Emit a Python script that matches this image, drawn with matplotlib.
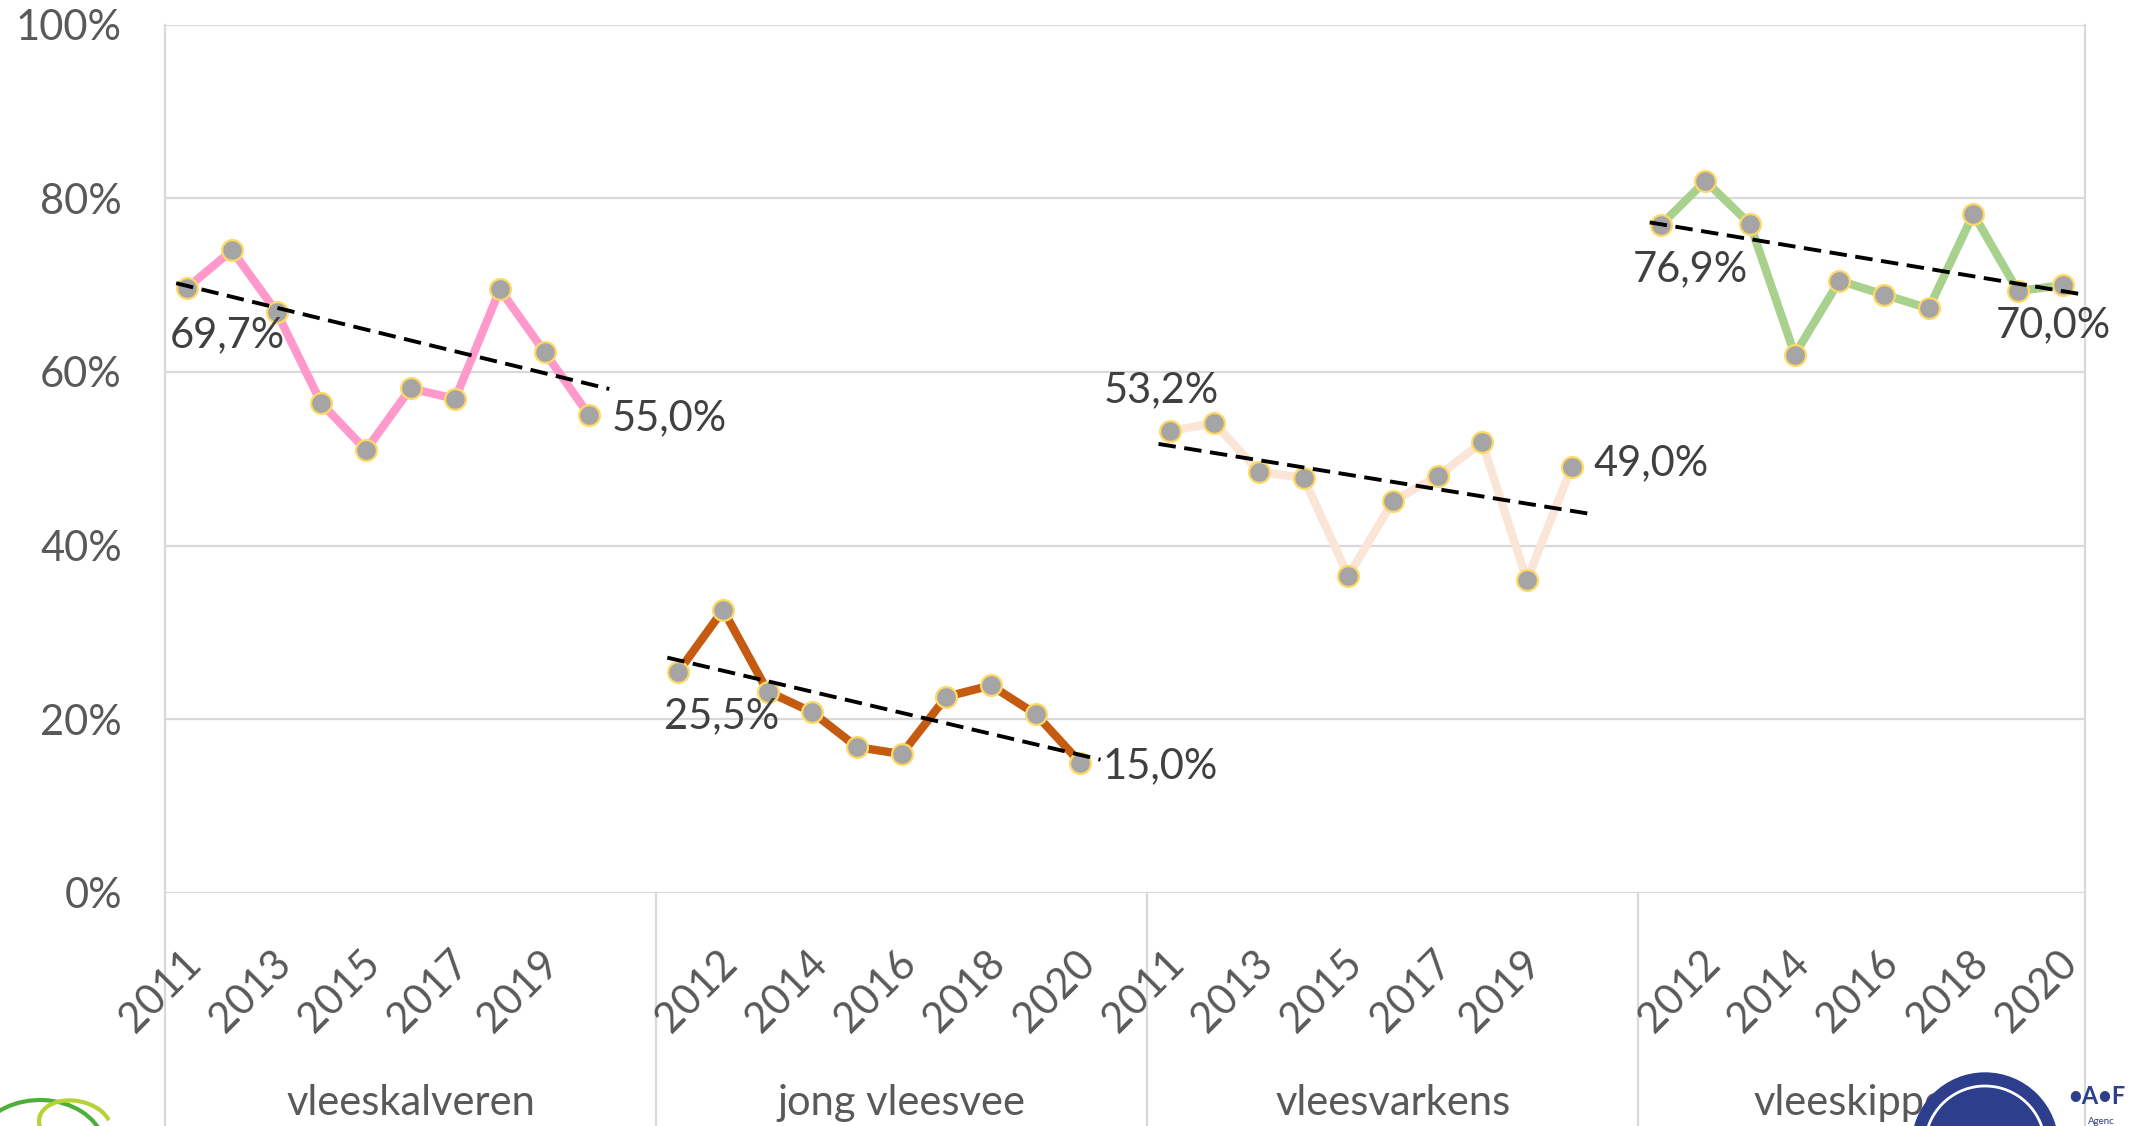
import matplotlib
matplotlib.use('Agg')
import matplotlib.pyplot as plt
from matplotlib.patches import Ellipse, Arc
from matplotlib.lines import Line2D
from matplotlib import font_manager
import numpy as np

# ---------------- data ----------------
years = [2011, 2012, 2013, 2014, 2015, 2016, 2017, 2018, 2019, 2020]
groups = ['vleeskalveren', 'jong vleesvee', 'vleesvarkens', 'vleeskippen']
vleeskalveren = [69.7, 74.0, 66.9, 56.4, 51.0, 58.1, 56.9, 69.5, 62.3, 55.0]
jong_vleesvee = [25.5, 32.6, 23.2, 20.8, 16.8, 16.0, 22.6, 23.9, 20.6, 15.0]
vleesvarkens = [53.2, 54.1, 48.5, 47.8, 36.5, 45.1, 48.0, 51.9, 36.0, 49.0]
vleeskippen = [76.9, 82.0, 77.0, 62.0, 70.5, 68.9, 67.3, 78.2, 69.3, 70.0]
series = [vleeskalveren, jong_vleesvee, vleesvarkens, vleeskippen]
# trend line values at first (2011) and last (2020) year
trend_first = [69.9, 26.8, 51.5, 77.0]
trend_last = [58.6, 15.9, 44.0, 69.3]
yticks = [0, 20, 40, 60, 80, 100]

# ---------------- style ----------------
line_colors = ['#ff99cc', '#c55a11', '#fbe5d6', '#a9d18e']
grid_c = '#d9d9d9'
axis_txt = '#595959'
label_txt = '#404040'

names = {f.name for f in font_manager.fontManager.ttflist}
if 'Liberation Sans Narrow' in names:
    FAM = ['Liberation Sans Narrow', 'DejaVu Sans']
    FS = 36
else:
    FAM = ['Lato', 'DejaVu Sans']
    FS = 30
plt.rcParams['font.family'] = FAM

W, H = 2136, 1126
fig = plt.figure(figsize=(W / 100, H / 100), dpi=100)
left_px, right_px, top_px, bot_px = 165, 2085, 24.5, 893
ax = fig.add_axes([left_px / W, 1 - bot_px / H, (right_px - left_px) / W, (bot_px - top_px) / H])

# categories: each group has 10 years + one blank (except the last group)
cats = []
for g in range(len(groups)):
    cats += [str(y) for y in years]
    if g < len(groups) - 1:
        cats.append('')
n = len(cats)
ax.set_xlim(-0.5, n - 0.5)
ax.set_ylim(0, 100)

ax.set_yticks(yticks)
ax.set_yticklabels([f'{v}%' for v in yticks])
ax.yaxis.grid(True, color=grid_c, lw=1.6)
ax.set_axisbelow(True)
ax.tick_params(axis='y', length=0, pad=31, labelsize=FS, labelcolor=axis_txt)
ax.set_xticks([])
for s in ['top', 'bottom']:
    ax.spines[s].set_visible(False)
for s in ['left', 'right']:
    ax.spines[s].set_color(grid_c)
    ax.spines[s].set_linewidth(1.6)

xtr = ax.get_xaxis_transform()
# category group separators extending below the axis
sep = [-0.5]
for g in range(len(groups)):
    sep.append(sep[-1] + (11 if g < len(groups) - 1 else 10))
for s in sep:
    ax.add_line(Line2D([s, s], [0, -0.4], transform=xtr, color=grid_c, lw=1.6, clip_on=False))

# year tick labels (every other category)
for k in range(0, n, 2):
    if cats[k]:
        ax.annotate(cats[k], xy=(k, 0), xycoords=xtr, xytext=(8, -64), textcoords='offset pixels',
                    rotation=45, rotation_mode='anchor', ha='right', va='center',
                    fontsize=FS, color=axis_txt, annotation_clip=False)

# group labels
for g, name in enumerate(groups):
    cx = (sep[g] + sep[g + 1]) / 2
    ax.text(cx, -(1115 - bot_px) / (bot_px - top_px), name, transform=xtr, ha='center',
            va='baseline', fontsize=FS, color=axis_txt, clip_on=False, zorder=10)

# data lines, trends and labels
first_off = [(40, -48, 'center'), (43, -45, 'center'), (-8, 41, 'center'), (30, -44, 'center')]
last_off = [(22, -3, 'left'), (22, -3, 'left'), (22, 4, 'left'), (-9, -40, 'center')]
for g, vals in enumerate(series):
    x0 = g * 11
    xs = x0 + np.arange(len(years))
    ax.plot(xs, vals, color=line_colors[g], lw=6, marker='o', ms=15,
            mfc='#a5a5a5', mec='#ffd966', mew=1.6, solid_joinstyle='round', zorder=3)
    slope = (trend_last[g] - trend_first[g]) / (len(years) - 1)
    tx = np.array([-0.25, 9.45])
    ty = trend_first[g] + slope * tx
    ax.plot(x0 + tx, ty, color='black', lw=2.8, ls=(0, (4.5, 2.2)), zorder=4)
    for idx, off in ((0, first_off[g]), (len(years) - 1, last_off[g])):
        txt = f'{vals[idx]:.1f}'.replace('.', ',') + '%'
        ax.annotate(txt, xy=(xs[idx], vals[idx]), xytext=(off[0], off[1]), textcoords='offset pixels',
                    ha=off[2], va='center', fontsize=FS, color=label_txt, zorder=6,
                    annotation_clip=False)

# ---------------- logos (approximate) ----------------
def fx(px):
    return px / W

def fy(py):
    return 1 - py / H

# green leaf (bottom-left)
fig.add_artist(Arc((fx(40), fy(1150)), fx(130), 100 / H, theta1=20, theta2=150,
                   color='#4caf3a', lw=3, transform=fig.transFigure))
fig.add_artist(Arc((fx(75), fy(1125)), fx(70), 50 / H, angle=15, theta1=0, theta2=200,
                   color='#b5d334', lw=3, transform=fig.transFigure))
# blue round logo (bottom-right)
fig.add_artist(Ellipse((fx(1985), fy(1146)), fx(146), 146 / H, color='#2c3e8c',
                       transform=fig.transFigure, zorder=1))
fig.add_artist(Arc((fx(1985), fy(1146)), fx(120), 120 / H, theta1=30, theta2=170,
                   color='white', lw=2, transform=fig.transFigure, zorder=2))
fig.text(fx(2068), fy(1097), '•A•F', fontsize=17, fontweight='bold', color='#2c3e8c',
         va='center', ha='left', family=['Lato', 'DejaVu Sans'])
fig.text(fx(2088), fy(1121), 'Agenc', fontsize=7, color='#2c3e8c', va='center', ha='left',
         family=['Lato', 'DejaVu Sans'])

fig.savefig('out.png', dpi=100)
